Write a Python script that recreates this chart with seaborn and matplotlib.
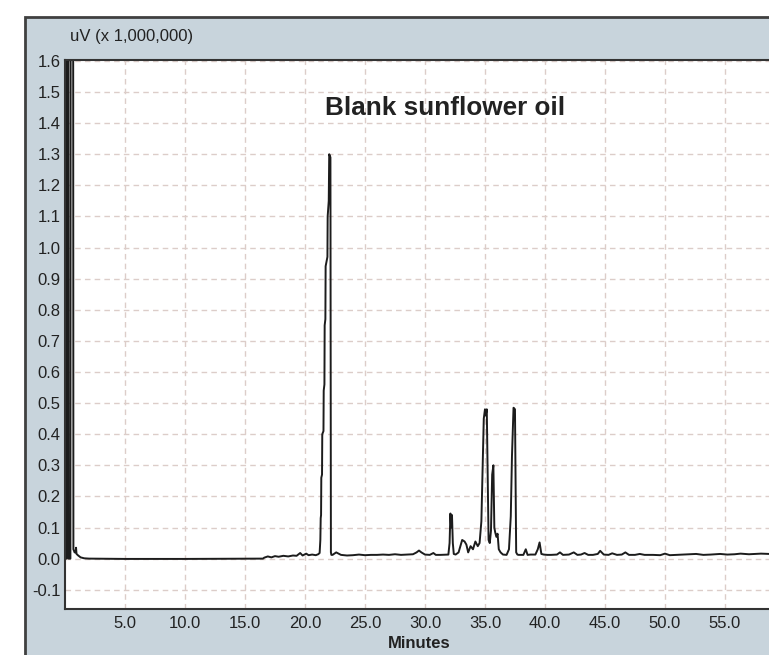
import numpy as np
import pandas as pd
import seaborn as sns
import matplotlib
matplotlib.use("Agg")
import matplotlib.pyplot as plt
from matplotlib import font_manager
from matplotlib.patches import Rectangle

# chromatogram, in segments (minutes, uV x 1e6)
t_solvent = [0.05, 0.13, 0.15, 0.27, 0.29, 0.45, 0.47, 0.68, 0.70, 0.80, 0.88, 0.92, 0.96, 1.1, 1.3, 1.6, 2.0]
v_solvent = [0.0, 0.0, 1.75, 1.75, 0.0, 0.0, 1.75, 1.75, 0.03, 0.02, 0.02, 0.035, 0.015, 0.01, 0.004, 0.001, 0.0]

t_flat = [5.0, 10.0, 15.0, 16.5]
v_flat = [-0.001, -0.001, 0.0, 0.0]

t_noise = [16.6, 16.9, 17.2, 17.5, 17.8, 18.2, 18.6, 19.0, 19.3, 19.6, 19.8, 20.1, 20.3, 20.6, 20.9, 21.1]
v_noise = [0.003, 0.007, 0.004, 0.008, 0.006, 0.009, 0.007, 0.01, 0.009, 0.018, 0.01, 0.016, 0.011, 0.013, 0.011, 0.014]

t_main = [21.22, 21.28, 21.31, 21.34, 21.36, 21.42, 21.44, 21.54, 21.56, 21.62, 21.64, 21.70, 21.72, 21.87, 21.89, 21.98, 22.02, 22.12, 22.16, 22.20]
v_main = [0.018, 0.06, 0.13, 0.14, 0.26, 0.27, 0.40, 0.41, 0.54, 0.56, 0.75, 0.77, 0.94, 0.97, 1.10, 1.15, 1.30, 1.29, 0.02, 0.012]

t_mid = [22.3, 22.6, 23.0, 23.5, 24.0, 24.5, 25.0, 25.5, 26.0, 26.5, 27.0, 27.5, 28.0, 28.5, 29.0, 29.3, 29.5, 29.7, 30.0, 30.4, 30.7, 30.9, 31.3, 31.8]
v_mid = [0.012, 0.02, 0.012, 0.01, 0.011, 0.013, 0.011, 0.012, 0.012, 0.013, 0.012, 0.014, 0.012, 0.013, 0.014, 0.02, 0.026, 0.02, 0.013, 0.012, 0.018, 0.012, 0.012, 0.013]

t_cluster = [31.95, 32.05, 32.12, 32.18, 32.25, 32.32, 32.4, 32.55, 32.8, 33.1, 33.3, 33.45, 33.6, 33.8,
             34.0, 34.2, 34.4, 34.55, 34.7, 34.8, 34.9, 35.0, 35.05, 35.15, 35.3, 35.4, 35.5, 35.6, 35.7,
             35.78, 35.85, 35.95, 36.05, 36.15, 36.3, 36.5, 36.8, 37.0, 37.15, 37.25, 37.38, 37.5, 37.6,
             37.7, 37.8, 38.0, 38.2, 38.4, 38.55, 38.8, 39.2, 39.4, 39.55, 39.7, 39.9, 40.2]
v_cluster = [0.013, 0.05, 0.145, 0.10, 0.14, 0.05, 0.015, 0.013, 0.02, 0.06, 0.055, 0.045, 0.02, 0.04,
             0.03, 0.055, 0.04, 0.05, 0.12, 0.29, 0.45, 0.48, 0.46, 0.48, 0.06, 0.05, 0.09, 0.27, 0.30,
             0.10, 0.085, 0.07, 0.08, 0.03, 0.02, 0.013, 0.012, 0.03, 0.136, 0.33, 0.485, 0.48, 0.02,
             0.013, 0.012, 0.012, 0.012, 0.03, 0.012, 0.013, 0.013, 0.03, 0.052, 0.015, 0.013, 0.012]

t_tail = [40.5, 41.0, 41.25, 41.5, 42.0, 42.4, 42.7, 43.0, 43.3, 43.6, 44.0, 44.4, 44.6, 44.9, 45.3, 45.6,
          46.0, 46.4, 46.7, 47.0, 47.5, 47.9, 48.3, 49.0, 49.6, 50.0, 50.4, 51.0, 51.8, 52.6, 53.2, 53.8,
          54.6, 55.2, 55.8, 56.3, 57.0, 57.6, 58.0, 58.7]
v_tail = [0.012, 0.013, 0.02, 0.012, 0.013, 0.02, 0.012, 0.013, 0.018, 0.012, 0.012, 0.015, 0.025, 0.013,
          0.012, 0.017, 0.012, 0.013, 0.02, 0.012, 0.012, 0.015, 0.012, 0.012, 0.011, 0.016, 0.011, 0.012,
          0.013, 0.015, 0.012, 0.013, 0.015, 0.013, 0.014, 0.016, 0.014, 0.015, 0.016, 0.015]

x_ticks = [5.0, 10.0, 15.0, 20.0, 25.0, 30.0, 35.0, 40.0, 45.0, 50.0, 55.0]
y_ticks = [-0.1, 0.0, 0.1, 0.2, 0.3, 0.4, 0.5, 0.6, 0.7, 0.8, 0.9, 1.0, 1.1, 1.2, 1.3, 1.4, 1.5, 1.6]

df = pd.DataFrame({
    "Minutes": [*t_solvent, *t_flat, *t_noise, *t_main, *t_mid, *t_cluster, *t_tail],
    "uV": [*v_solvent, *v_flat, *v_noise, *v_main, *v_mid, *v_cluster, *v_tail],
})

sns.set_theme(style="white")
names = {f.name for f in font_manager.fontManager.ttflist}
s_font = "Liberation Sans Narrow" if "Liberation Sans Narrow" in names else "Liberation Sans"
plt.rcParams["font.family"] = [s_font, "DejaVu Sans"]

W, H = 769, 655
fig = plt.figure(figsize=(W / 100, H / 100), dpi=100)
fig.patch.set_facecolor("white")
panel = Rectangle((25 / W, -0.05), 1.0, 1 - 17 / H + 0.05, transform=fig.transFigure,
                  facecolor="#c8d4dc", edgecolor="#404040", lw=2, zorder=-10)
fig.add_artist(panel)

ax = fig.add_axes([65 / W, 1 - 609 / H, 1 - 65 / W, (609 - 60) / H])
ax.set_zorder(5)
ax.set_facecolor("white")
sns.lineplot(data=df, x="Minutes", y="uV", ax=ax, sort=False, estimator=None,
             color="#1c1c1c", lw=1.4)

ax.set_xlim(0, 58.67)
ax.set_ylim(-0.162, 1.603)
ax.set_xticks(x_ticks)
ax.set_xticklabels([f"{x:.1f}" for x in x_ticks])
ax.set_yticks(y_ticks)
ax.set_yticklabels([f"{y:.1f}" for y in y_ticks])
ax.tick_params(length=0, labelsize=12, colors="#222222")
ax.tick_params(axis="y", pad=3)
ax.tick_params(axis="x", pad=5)
ax.grid(True, ls=(0, (4, 3)), color="#dccdc9", lw=1)
ax.set_axisbelow(True)
for s in ["left", "top", "bottom"]:
    ax.spines[s].set_color("#333333")
    ax.spines[s].set_linewidth(1.5)
ax.spines["right"].set_visible(False)
ax.set_xlabel("")
ax.set_ylabel("")

ax.text(31.7, 1.45, "Blank sunflower oil", fontsize=18.8, fontweight="bold",
        ha="center", va="center", color="#222222")
fig.text(70 / W, 1 - 37 / H, "uV (x 1,000,000)", fontsize=12, ha="left", va="center", color="#222222")
fig.text(419 / W, 1 - 643 / H, "Minutes", fontsize=12, fontweight="bold", ha="center", va="center",
         color="#222222")

fig.savefig("out.png", dpi=100)
